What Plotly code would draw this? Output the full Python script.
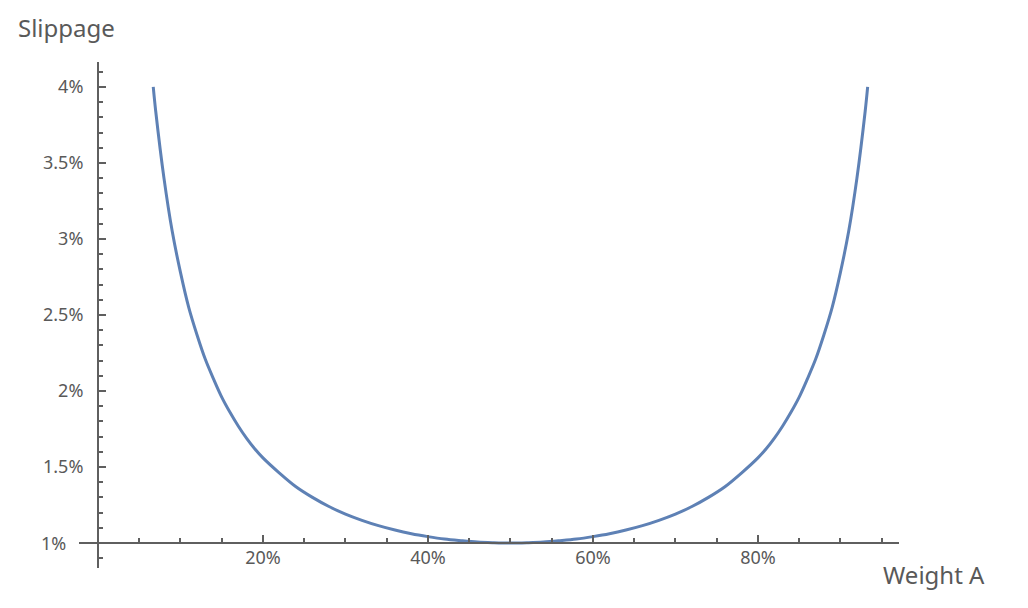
import plotly.graph_objects as go

# Weight A (%) and slippage (%)
weight_a = [6.7, 7, 8, 9, 10, 11, 12, 13, 14, 15, 16, 17, 18, 19, 20, 22, 24, 26, 28, 30,
            32, 34, 36, 38, 40, 42, 44, 46, 48, 50, 52, 54, 56, 58, 60, 62, 64, 66, 68,
            70, 72, 74, 76, 78, 80, 81, 82, 83, 84, 85, 86, 87, 88, 89, 90, 91, 92, 93, 93.3]
slippage = [4.00, 3.84, 3.40, 3.05, 2.78, 2.55, 2.37, 2.21, 2.08, 1.96, 1.86, 1.77, 1.69, 1.62,
            1.56, 1.46, 1.37, 1.30, 1.24, 1.19, 1.149, 1.114, 1.085, 1.061, 1.042, 1.026, 1.015,
            1.006, 1.002, 1.000, 1.002, 1.006, 1.015, 1.026, 1.042, 1.061, 1.085, 1.114, 1.149,
            1.19, 1.24, 1.30, 1.37, 1.46, 1.56, 1.62, 1.69, 1.77, 1.86, 1.96, 2.08, 2.21, 2.37,
            2.55, 2.78, 3.05, 3.40, 3.84, 4.00]

x_tick_vals = [20, 40, 60, 80]
x_tick_text = ["20%", "40%", "60%", "80%"]
y_tick_vals = [1, 1.5, 2, 2.5, 3, 3.5, 4]
y_tick_text = ["", "1.5%", "2%", "2.5%", "3%", "3.5%", "4%"]

W, H = 1028, 608
OFF = 8  # default page body margin
PLOT_W, PLOT_H = 820, 506
L = 79 - OFF
T = 62 - OFF
R = W - L - PLOT_W
B = H - T - PLOT_H
AX = "#5f5f5f"
TXT = "#595959"
FONT = "Noto Sans"
TICK_SIZE = 18
TITLE_SIZE = 24

x_range = [-2.3, 97.1]
y_range = [0.8355, 4.164]

def px_to_paper_x(px):
    return (px - OFF - L) / PLOT_W

def px_to_paper_y(py):
    return (T + PLOT_H - (py - OFF)) / PLOT_H

def val_to_paper_x(v):
    return (v - x_range[0]) / (x_range[1] - x_range[0])

def val_to_paper_y(v):
    return (v - y_range[0]) / (y_range[1] - y_range[0])

fig = go.Figure()
fig.add_trace(go.Scatter(x=weight_a, y=slippage, mode="lines",
                         line=dict(color="#5E81B5", width=3, shape="spline"),
                         hoverinfo="skip", showlegend=False))

fig.update_layout(
    width=W, height=H,
    margin=dict(l=L, r=R, t=T, b=B, autoexpand=False),
    paper_bgcolor="white", plot_bgcolor="white",
    font=dict(family=FONT, color=TXT, size=TICK_SIZE),
    xaxis=dict(range=x_range, showgrid=False, zeroline=False, automargin=False,
               showline=True, linecolor=AX, linewidth=2,
               anchor="free", position=val_to_paper_y(1.0),
               tickmode="array", tickvals=x_tick_vals, ticktext=x_tick_text,
               ticks="inside", ticklen=7, tickwidth=2, tickcolor=AX,
               ticklabelstandoff=-2,
               tickfont=dict(family=FONT, size=TICK_SIZE, color=TXT),
               minor=dict(tickmode="linear", tick0=0, dtick=5, ticks="inside",
                          ticklen=4, tickwidth=1.5, tickcolor=AX, showgrid=False)),
    yaxis=dict(range=y_range, showgrid=False, zeroline=False, automargin=False,
               showline=True, linecolor=AX, linewidth=2,
               anchor="free", position=val_to_paper_x(0.0),
               tickmode="array", tickvals=y_tick_vals, ticktext=y_tick_text,
               ticks="inside", ticklen=7, tickwidth=2, tickcolor=AX,
               ticklabelstandoff=10,
               tickfont=dict(family=FONT, size=TICK_SIZE, color=TXT),
               minor=dict(tickmode="linear", tick0=0, dtick=0.1, ticks="inside",
                          ticklen=4, tickwidth=1.5, tickcolor=AX, showgrid=False)),
)

fig.add_annotation(text="1%", xref="paper", yref="y", x=px_to_paper_x(68), y=1.0,
                   xanchor="right", yanchor="middle", showarrow=False,
                   font=dict(family=FONT, size=TICK_SIZE, color=TXT))
fig.add_annotation(text="Slippage", xref="paper", yref="paper",
                   x=px_to_paper_x(16), y=px_to_paper_y(28),
                   xanchor="left", yanchor="middle", showarrow=False,
                   font=dict(family=FONT, size=TITLE_SIZE, color=TXT))
fig.add_annotation(text="Weight A", xref="paper", yref="paper",
                   x=px_to_paper_x(881), y=px_to_paper_y(574),
                   xanchor="left", yanchor="middle", showarrow=False,
                   font=dict(family=FONT, size=TITLE_SIZE, color=TXT))

fig.write_html("out.html")
